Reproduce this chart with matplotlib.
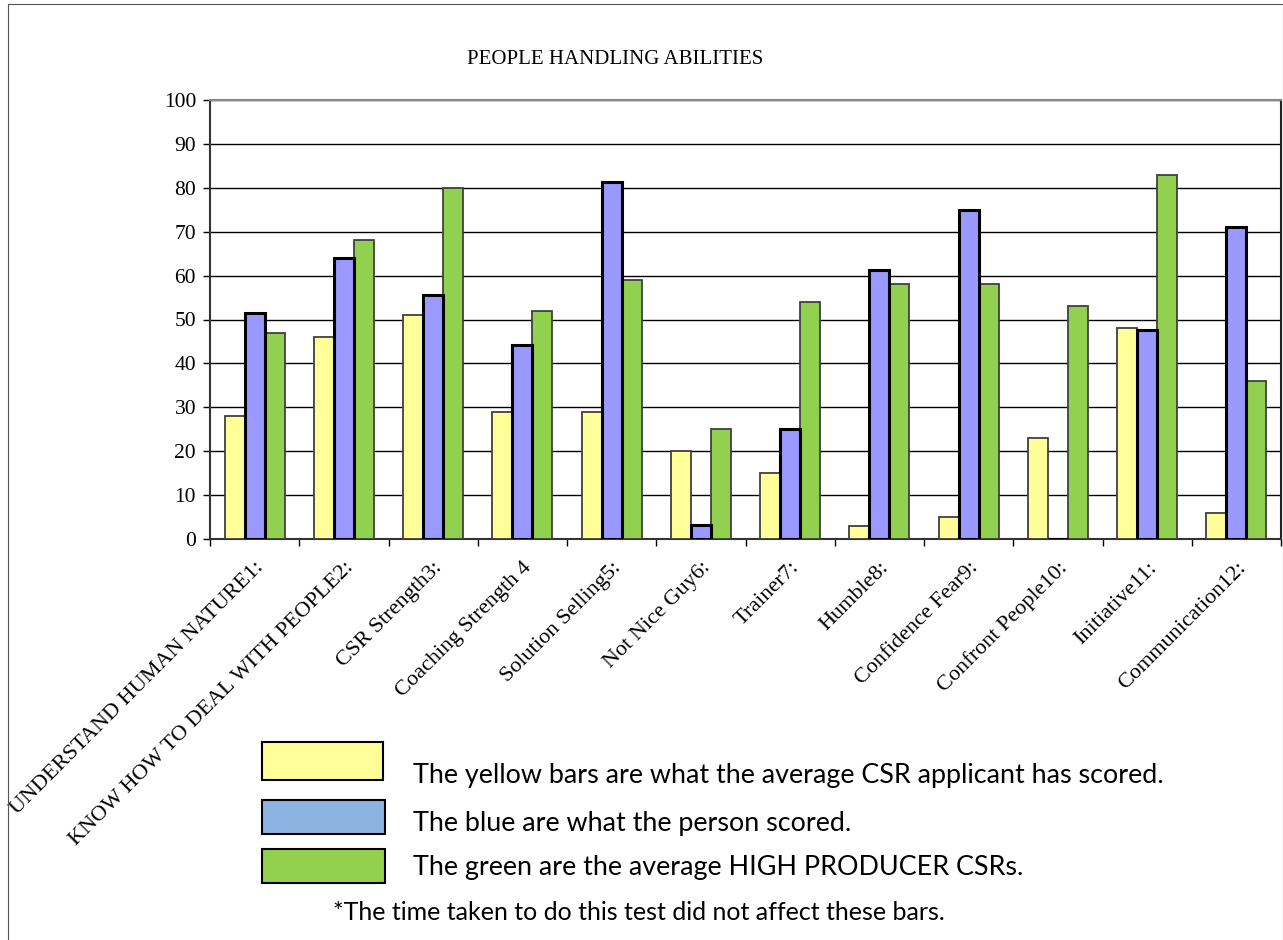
# People handling abilities: grouped bar chart with boxed legend notes
import matplotlib.pyplot as plt
import matplotlib.patches as mpatches
import numpy as np

categories = ['UNDERSTAND HUMAN NATURE1:', 'KNOW HOW TO DEAL WITH PEOPLE2:',
              'CSR Strength3:', 'Coaching Strength 4', 'Solution Selling5:',
              'Not Nice Guy6:', 'Trainer7:', 'Humble8:', 'Confidence Fear9:',
              'Confront People10:', 'Initiative11:', 'Communication12:']
applicant = [28, 46, 51, 29, 29, 20, 15, 3, 5, 23, 48, 6]
person = [51.5, 64, 55.5, 44.3, 81.3, 3.3, 25, 61.3, 75, 0, 47.7, 71]
high_producer = [47, 68, 80, 52, 59, 25, 54, 58, 58, 53, 83, 36]

legend_texts = ['The yellow bars are what the average CSR applicant has scored.',
                'The blue are what the person scored.',
                'The green are the average HIGH PRODUCER CSRs.']
footnote = '*The time taken to do this test did not affect these bars.'

W, H = 1283, 940
fig = plt.figure(figsize=(W / 100, H / 100), dpi=100)

# outer frame
fig.add_artist(mpatches.Rectangle((8 / W, -0.01), (W - 8) / W, 1 - 4 / H + 0.01,
                                  transform=fig.transFigure, fill=False,
                                  edgecolor='#555555', linewidth=0.8))

ax = fig.add_axes([210 / W, 1 - 539 / H, (1281 - 210) / W, (539 - 100) / H])

x = np.arange(len(categories))
w = 0.224
ax.bar(x - w, applicant, w, color='#FFFF99', edgecolor='#404040', linewidth=1.3, zorder=3)
ax.bar(x, person, w, color='#9999FF', edgecolor='black', linewidth=2.2, zorder=4)
ax.bar(x + w, high_producer, w, color='#92D050', edgecolor='#404040', linewidth=1.3, zorder=3)

ax.set_xlim(-0.5, len(categories) - 0.5)
ax.set_ylim(0, 100)
ax.set_yticks(range(0, 101, 10))
ax.yaxis.grid(True, color='black', linewidth=1.0, zorder=0)
ax.set_axisbelow(True)

serif = 'Liberation Serif'
ax.set_yticklabels([str(v) for v in range(0, 101, 10)], fontfamily=serif, fontsize=15.5)
ax.tick_params(axis='y', direction='out', length=5, width=1, pad=5)

ax.set_xticks(np.arange(-0.5, len(categories) + 0.5, 1), minor=False)
ax.set_xticklabels([])
ax.tick_params(axis='x', direction='out', length=5, width=1)
ax.set_xticks(x, minor=True)
ax.set_xticklabels(categories, minor=True, rotation=45, ha='right', va='top',
                   rotation_mode='anchor', fontfamily=serif, fontsize=16)
ax.tick_params(axis='x', which='minor', length=0, pad=14)

ax.spines['top'].set_color('#888888')
ax.spines['top'].set_linewidth(1.5)
ax.spines['left'].set_color('#333333')
ax.spines['left'].set_linewidth(1.5)
ax.spines['bottom'].set_color('#333333')
ax.spines['bottom'].set_linewidth(1.5)
ax.spines['right'].set_color('#222222')
ax.spines['right'].set_linewidth(1.5)

fig.text(615 / W, 1 - 59 / H, 'PEOPLE HANDLING ABILITIES', ha='center', va='center',
         fontfamily=serif, fontsize=15)

# legend-like note boxes
boxes = [(262, 742, 121, 38, '#FFFF99'), (262, 800, 123, 34, '#8DB3E2'),
         (262, 849, 123, 34, '#92D050')]
text_y = [776, 824, 868]
for (bx, by, bw, bh, c), t, ty in zip(boxes, legend_texts, text_y):
    fig.add_artist(mpatches.Rectangle((bx / W, 1 - (by + bh) / H), bw / W, bh / H,
                                      transform=fig.transFigure, facecolor=c,
                                      edgecolor='black', linewidth=1.5))
    fig.text(413 / W, 1 - ty / H, t, ha='left', va='center',
             fontfamily='Lato', fontsize=19.4)
fig.text(639 / W, 1 - 913 / H, footnote, ha='center', va='center',
         fontfamily='Lato', fontsize=18)

fig.savefig('out.png', dpi=100)
